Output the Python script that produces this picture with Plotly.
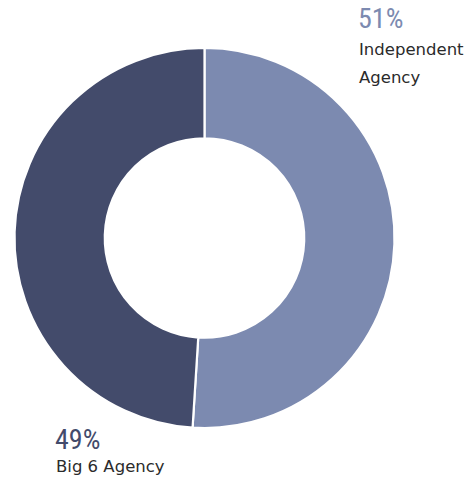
import plotly.graph_objects as go

# Share of placements by agency type
categories = ["Independent Agency", "Big 6 Agency"]
shares = [51, 49]
label_lines = [["Independent", "Agency"], ["Big 6 Agency"]]

slice_colors = ["#7c8ab0", "#434b6b"]

W, H = 467, 481

fig = go.Figure(
    go.Pie(
        labels=categories,
        values=shares,
        hole=0.525,
        sort=False,
        direction="clockwise",
        rotation=0,
        textinfo="none",
        hoverinfo="label+percent",
        marker=dict(colors=slice_colors, line=dict(color="white", width=2.2)),
        domain=dict(x=[14.5 / W, 394.5 / W], y=[1 - 428 / H, 1 - 48 / H]),
        showlegend=False,
    )
)

pct_font = "Roboto Condensed, DejaVu Sans Condensed, sans-serif"
txt_font = "DejaVu Sans, sans-serif"

# callout placement in pixels: left edge, top of percentage, top of each text line
callouts = [
    dict(x=356, pct_top=0, line_tops=[38, 66]),
    dict(x=53, pct_top=421, line_tops=[455]),
]
for i, c in enumerate(callouts):
    fig.add_annotation(
        x=c["x"] / W, y=1 - c["pct_top"] / H, xref="paper", yref="paper",
        xanchor="left", yanchor="top", showarrow=False,
        text=f"{shares[i]}%",
        font=dict(family=pct_font, size=28, color=slice_colors[i]),
    )
    for line, top in zip(label_lines[i], c["line_tops"]):
        fig.add_annotation(
            x=(c["x"] + 1) / W, y=1 - top / H, xref="paper", yref="paper",
            xanchor="left", yanchor="top", showarrow=False,
            text=line,
            font=dict(family=txt_font, size=16.5, color="#2b2b2b"),
        )

fig.update_layout(
    width=W, height=H,
    margin=dict(l=0, r=0, t=0, b=0),
    paper_bgcolor="white", plot_bgcolor="white",
)

fig.write_html("out.html")
